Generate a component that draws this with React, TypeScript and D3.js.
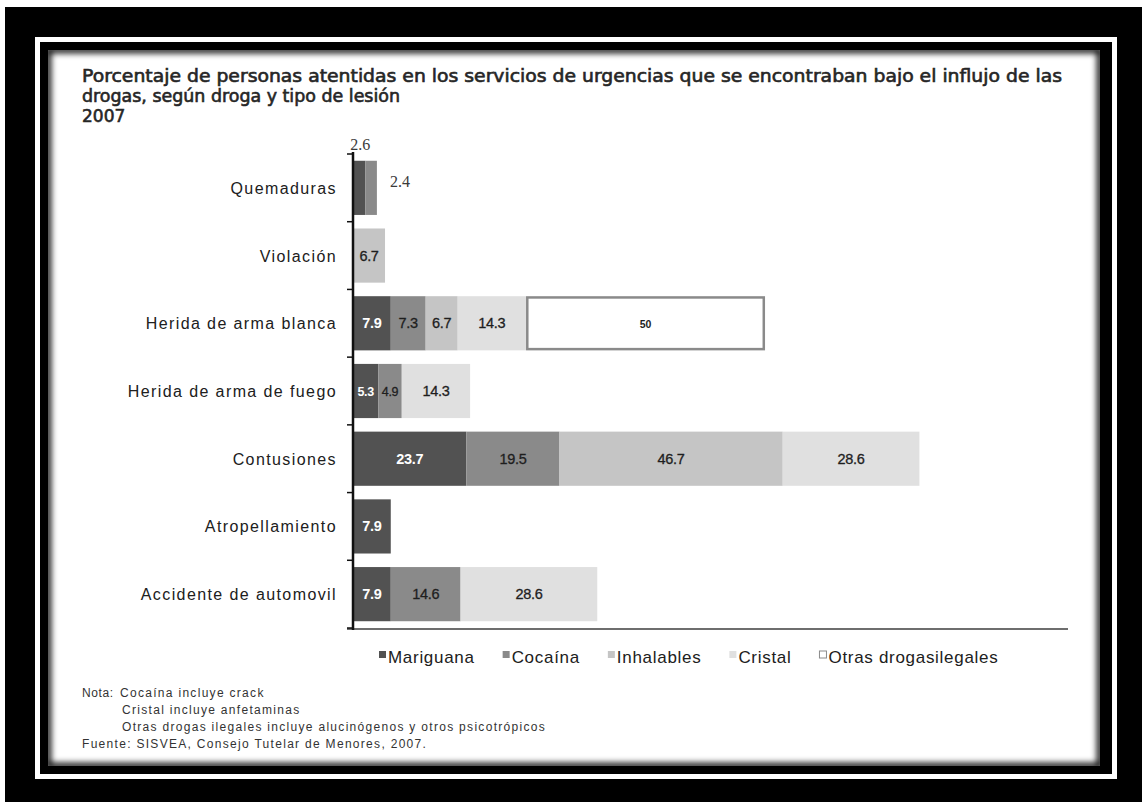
import React, { useEffect, useRef } from "react";
import * as d3 from "d3";

// Injury types (rows of the chart)
const categories = [
  "Quemaduras",
  "Violación",
  "Herida de arma blanca",
  "Herida de arma de fuego",
  "Contusiones",
  "Atropellamiento",
  "Accidente de automovil",
];

// Drug series, percentages per injury type (null = no bar)
const seriesNames = ["Mariguana", "Cocaína", "Inhalables", "Cristal", "Otras drogasilegales"];
const mariguana = [2.6, null, 7.9, 5.3, 23.7, 7.9, 7.9];
const cocaina = [2.4, null, 7.3, 4.9, 19.5, null, 14.6];
const inhalables = [null, 6.7, 6.7, null, 46.7, null, null];
const cristal = [null, null, 14.3, 14.3, 28.6, null, 28.6];
const otras = [null, null, 50, null, null, null, null];

const seriesValues = [mariguana, cocaina, inhalables, cristal, otras];
const seriesFill = ["#525252", "#8a8a8a", "#c5c5c5", "#e0e0e0", "#ffffff"];
const seriesLabelFill = ["#ffffff", "#1e1e1e", "#1e1e1e", "#1e1e1e", "#1e1e1e"];

const xMax = 150;

const titleLines = [
  "Porcentaje de personas atentidas en los servicios de urgencias que se encontraban bajo el influjo de las",
  "drogas, según droga y tipo de lesión",
  "2007",
];

const noteLines = [
  { label: "Nota:", text: "Cocaína incluye crack" },
  { label: "", text: "Cristal incluye anfetaminas" },
  { label: "", text: "Otras drogas ilegales incluye alucinógenos y otros psicotrópicos" },
];
const sourceLine = "Fuente: SISVEA, Consejo Tutelar de Menores, 2007.";

const W = 1142;
const H = 802;

export default function App() {
  const ref = useRef<SVGSVGElement | null>(null);

  useEffect(() => {
    const svg = d3.select(ref.current);
    svg.selectAll("*").remove();

    const defs = svg.append("defs");
    const blur = defs.append("filter").attr("id", "edgeBlur").attr("x", "-10%").attr("y", "-10%").attr("width", "120%").attr("height", "120%");
    blur.append("feGaussianBlur").attr("stdDeviation", 3);
    defs.append("clipPath").attr("id", "panelClip")
      .append("rect").attr("x", 48).attr("y", 50).attr("width", 1052).attr("height", 716);

    // Framing: black mat, thin white rule, black border, white panel
    svg.append("rect").attr("x", 5).attr("y", 7).attr("width", W - 5).attr("height", H - 7).attr("fill", "#000");
    svg.append("rect").attr("x", 35).attr("y", 37).attr("width", 1082).attr("height", 742).attr("fill", "#fff");
    svg.append("rect").attr("x", 40).attr("y", 42).attr("width", 1072).attr("height", 732).attr("fill", "#000");
    svg.append("rect").attr("x", 48).attr("y", 50).attr("width", 1052).attr("height", 716).attr("fill", "#fff");
    svg.append("g").attr("clip-path", "url(#panelClip)")
      .append("rect").attr("x", 48).attr("y", 50).attr("width", 1052).attr("height", 716)
      .attr("fill", "none").attr("stroke", "#000").attr("stroke-width", 6).attr("filter", "url(#edgeBlur)");

    // Title
    const titleWidths = [980, 318, null];
    titleLines.forEach((t, i) => {
      const el = svg.append("text")
        .attr("x", 82).attr("y", 82 + i * 20)
        .attr("font-family", "'DejaVu Sans', Verdana, sans-serif")
        .attr("font-size", 17)
        .attr("fill", "#262626").attr("stroke", "#262626").attr("stroke-width", 0.6)
        .text(t);
      if (titleWidths[i]) el.attr("textLength", titleWidths[i] as number).attr("lengthAdjust", "spacingAndGlyphs");
    });

    // Scales
    const y = d3.scaleBand<string>().domain(categories).range([154, 628]).paddingInner(0.2).paddingOuter(0.1);
    const x = d3.scaleLinear().domain([0, xMax]).range([353, 1070]);

    // Stack the series
    const rows = categories.map((c, i) => {
      const r: Record<string, number | string> = { cat: c };
      seriesNames.forEach((s, k) => { r[s] = seriesValues[k][i] ?? 0; });
      return r;
    });
    const stacked = d3.stack<Record<string, number | string>>().keys(seriesNames)(rows as any);

    const bars = svg.append("g");
    stacked.forEach((layer, k) => {
      layer.forEach((seg, i) => {
        const v = seriesValues[k][i];
        if (v == null) return;
        const cat = categories[i];
        const x0 = x(seg[0]);
        const x1 = x(seg[1]);
        const y0 = y(cat)!;
        const bw = y.bandwidth();
        const isOutline = k === seriesNames.length - 1;
        bars.append("rect")
          .attr("x", isOutline ? x0 + 1.25 : x0)
          .attr("y", isOutline ? y0 + 1.25 : y0)
          .attr("width", isOutline ? x1 - x0 - 2.5 : x1 - x0)
          .attr("height", isOutline ? bw - 2.5 : bw)
          .attr("fill", seriesFill[k])
          .attr("stroke", isOutline ? "#8a8a8a" : "none")
          .attr("stroke-width", isOutline ? 2.5 : 0);
      });
    });

    // Value labels
    const labels = svg.append("g");
    stacked.forEach((layer, k) => {
      layer.forEach((seg, i) => {
        const v = seriesValues[k][i];
        if (v == null) return;
        const cat = categories[i];
        const x0 = x(seg[0]);
        const x1 = x(seg[1]);
        const yc = y(cat)! + y.bandwidth() / 2;
        const narrow = x1 - x0 < 16;
        if (narrow) {
          // tiny segments carry their label outside the bar
          const t = labels.append("text")
            .attr("font-family", "'Liberation Serif', 'Times New Roman', serif")
            .attr("font-size", 16).attr("fill", "#3a3a3a")
            .text(String(v));
          if (k === 0) {
            t.attr("x", (x0 + x1) / 2 + 1).attr("y", y(cat)! - 11).attr("text-anchor", "middle");
          } else {
            t.attr("x", x1 + 13).attr("y", yc - 1).attr("text-anchor", "start");
          }
          return;
        }
        const isOutline = k === seriesNames.length - 1;
        labels.append("text")
          .attr("x", (x0 + x1) / 2).attr("y", yc + 5)
          .attr("text-anchor", "middle")
          .attr("font-family", "'Liberation Sans', Arial, sans-serif")
          .attr("font-size", isOutline ? 10.5 : (x1 - x0 < 28 ? 12.5 : 14.5))
          .attr("font-weight", k === 0 || isOutline ? "bold" : "normal")
          .attr("letter-spacing", isOutline ? 0 : -0.3)
          .attr("fill", seriesLabelFill[k])
          .attr("stroke", k === 0 || isOutline ? "none" : seriesLabelFill[k])
          .attr("stroke-width", 0.3)
          .text(String(v));
      });
    });

    // Axes
    const axisG = svg.append("g");
    axisG.append("line")
      .attr("x1", 347).attr("x2", 1068).attr("y1", 629).attr("y2", 629)
      .attr("stroke", "#6e6e6e").attr("stroke-width", 2);
    const boundaries = categories.map((c) => y(c)! - (y.step() * y.paddingInner()) / 2).concat([628]);
    boundaries.forEach((b) => {
      axisG.append("line").attr("x1", 347).attr("x2", 353).attr("y1", b).attr("y2", b)
        .attr("stroke", "#111").attr("stroke-width", 1.5);
    });
    axisG.append("line")
      .attr("x1", 353).attr("x2", 353).attr("y1", 152).attr("y2", 630)
      .attr("stroke", "#111").attr("stroke-width", 2.5);

    // Category labels
    categories.forEach((c) => {
      svg.append("text")
        .attr("x", 337).attr("y", y(c)! + y.bandwidth() / 2 + 6)
        .attr("text-anchor", "end")
        .attr("font-family", "'Liberation Sans', Arial, sans-serif")
        .attr("font-size", 16).attr("letter-spacing", 1.4)
        .attr("fill", "#202020")
        .text(c);
    });

    // Legend
    const legend = svg.append("g");
    let lx = 379;
    seriesNames.forEach((s, k) => {
      legend.append("rect")
        .attr("x", lx).attr("y", 651).attr("width", 7).attr("height", 7)
        .attr("fill", seriesFill[k])
        .attr("stroke", k === seriesNames.length - 1 ? "#8a8a8a" : "none")
        .attr("stroke-width", 1);
      const t = legend.append("text")
        .attr("x", lx + 9).attr("y", 663)
        .attr("font-family", "'Liberation Sans', Arial, sans-serif")
        .attr("font-size", 17).attr("letter-spacing", 0.7)
        .attr("fill", "#202020")
        .text(s);
      const w = (t.node() as SVGTextElement).getComputedTextLength();
      lx += 9 + w + 28;
    });

    // Notes and source
    const notes = svg.append("g")
      .attr("font-family", "'Liberation Sans', Arial, sans-serif")
      .attr("font-size", 12).attr("fill", "#333").attr("letter-spacing", 1.3);
    noteLines.forEach((n, i) => {
      const yy = 697 + i * 17;
      if (n.label) notes.append("text").attr("x", 82).attr("y", yy).attr("letter-spacing", 0.6).text(n.label);
      notes.append("text").attr("x", i === 0 ? 120 : 122).attr("y", yy).text(n.text);
    });
    notes.append("text").attr("x", 82).attr("y", 748).text(sourceLine);
  }, []);

  return (
    <svg
      ref={ref}
      width={W}
      height={H}
      viewBox={`0 0 ${W} ${H}`}
      style={{ position: "absolute", left: 0, top: 0, background: "#fff" }}
    />
  );
}
